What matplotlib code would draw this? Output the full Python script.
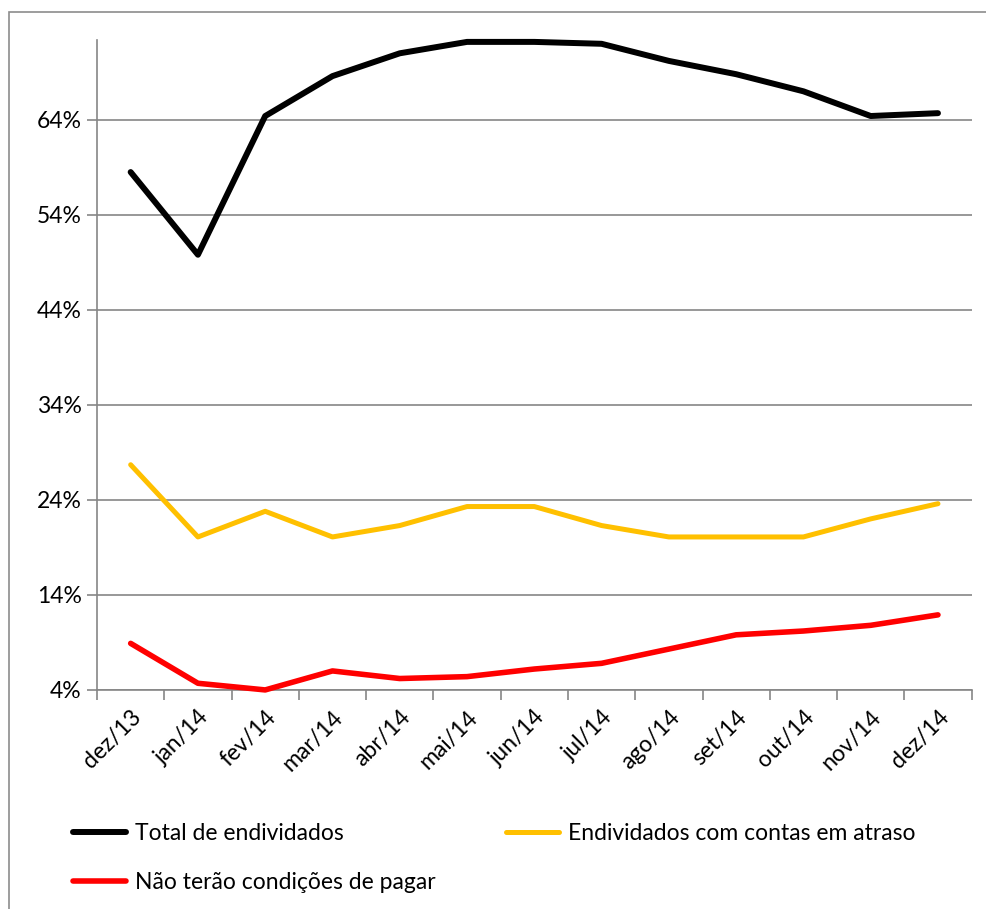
import matplotlib.pyplot as plt
from matplotlib.patches import Rectangle
from matplotlib.ticker import FixedLocator

plt.rcParams['font.family'] = ['Lato', 'DejaVu Sans']

meses = ["dez/13", "jan/14", "fev/14", "mar/14", "abr/14", "mai/14", "jun/14",
         "jul/14", "ago/14", "set/14", "out/14", "nov/14", "dez/14"]
total = [58.5, 49.8, 64.4, 68.6, 71.0, 72.2, 72.2, 72.0, 70.2, 68.8, 67.0, 64.4, 64.7]
atraso = [27.7, 20.1, 22.8, 20.1, 21.3, 23.3, 23.3, 21.3, 20.1, 20.1, 20.1, 22.0, 23.6]
nao_pagar = [8.9, 4.7, 4.0, 6.0, 5.2, 5.4, 6.2, 6.8, 8.3, 9.8, 10.2, 10.8, 11.9]
yticks = [4, 14, 24, 34, 44, 54, 64]

fig = plt.figure(figsize=(9.86, 9.09), dpi=100)
ax = fig.add_axes([0.0984, 0.241, 0.887, 0.715])

# moldura externa
fig.patches.append(Rectangle((9/986, -0.01), 1.0, 1 - 12/909 + 0.01, transform=fig.transFigure,
                             fill=False, edgecolor="#8c8c8c", linewidth=1.2))

x = list(range(len(meses)))
l1, = ax.plot(x, total, color="black", lw=4.3, solid_capstyle="round", clip_on=False, zorder=3)
l2, = ax.plot(x, atraso, color="#FFC000", lw=3.6, solid_capstyle="round", zorder=3)
l3, = ax.plot(x, nao_pagar, color="#FF0000", lw=4.0, solid_capstyle="round", clip_on=False, zorder=3)

ax.set_xlim(-0.5, len(meses) - 0.5)
ax.set_ylim(4, 72.4)
ax.set_yticks(yticks)
ax.set_yticklabels([f"{v}%" for v in yticks], fontsize=16.5)
ax.yaxis.grid(True, color="#868686", lw=1.2)
ax.set_axisbelow(True)

ax.set_xticks(x)
ax.set_xticklabels(meses, fontsize=16.5, rotation=45, ha="right", va="top", rotation_mode="anchor")
ax.xaxis.set_minor_locator(FixedLocator([i - 0.5 for i in range(len(meses) + 1)]))
ax.tick_params(axis="x", which="major", length=0, pad=12)
ax.tick_params(axis="x", which="minor", length=7, width=1.2, color="#868686")
ax.tick_params(axis="y", length=7, width=1.2, color="#868686", pad=4)

for s in ["top", "right"]:
    ax.spines[s].set_visible(False)
for s in ["left", "bottom"]:
    ax.spines[s].set_color("#868686")
    ax.spines[s].set_linewidth(1.2)

# ordem por coluna: col1 = Total, Não terão; col2 = Endividados com contas em atraso
fig.legend([l1, l3, l2],
           ["Total de endividados", "Não terão condições de pagar", "Endividados com contas em atraso"],
           ncol=2, loc="upper left", bbox_to_anchor=(0.053, 0.117), frameon=False, fontsize=16.5,
           handlelength=2.3, handletextpad=0.4, columnspacing=3.1, labelspacing=1.2)

fig.savefig("out.png", dpi=100)
